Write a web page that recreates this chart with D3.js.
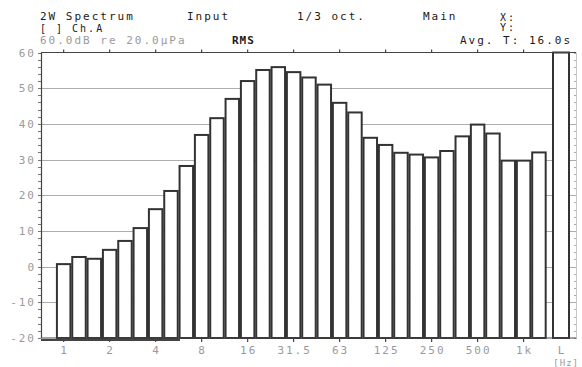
<!DOCTYPE html>
<html>
<head>
<meta charset="utf-8">
<title>2W Spectrum</title>
<script src="https://d3js.org/d3.v7.min.js"></script>
<style>
  body { margin: 0; background: #fff; }
  text { font-family: "DejaVu Sans Mono", monospace; font-size: 11px; letter-spacing: 2px; }
  .hdr { fill: #1a1a1a; }
  .dim { fill: #9a9a9a; }
</style>
</head>
<body>
<script>
var bands = ["1", "1.25", "1.6", "2", "2.5", "3.15", "4", "5", "6.3", "8", "10", "12.5",
             "16", "20", "25", "31.5", "40", "50", "63", "80", "100", "125", "160", "200",
             "250", "315", "400", "500", "630", "800", "1k", "1.25k"];
var levels = [0.7, 2.7, 2.2, 4.7, 7.2, 10.8, 16.1, 21.2, 28.2, 36.9, 41.6, 47,
              52, 55.1, 55.9, 54.5, 53, 51, 45.9, 43.2, 36.1, 34.1, 31.9, 31.4,
              30.6, 32.4, 36.5, 39.8, 37.3, 29.7, 29.7, 32];
var levelL = 60;
var xTickLabels = ["1", "2", "4", "8", "16", "31.5", "63", "125", "250", "500", "1k"];
var yTicks = [60, 50, 40, 30, 20, 10, 0, -10, -20];

var W = 582, H = 367;
var pLeft = 41, pRight = 576, pTop = 52.5, pBottom = 338;

var svg = d3.select("body").append("svg").attr("width", W).attr("height", H);

var y = d3.scaleLinear().domain([-20, 60]).range([pBottom, pTop]);
var x = d3.scaleBand().domain(bands).range([56, 546.6]).paddingInner(0.12).paddingOuter(0.06);
var xL = pRight - 23, wL = 16;   // overall level bar sits apart at the right edge

function myLine(g, x1, y1, x2, y2) {
  return g.append("line").attr("x1", x1).attr("y1", y1).attr("x2", x2).attr("y2", y2);
}

// header
function hdr(txt, px, py, cls) {
  return svg.append("text").attr("class", cls || "hdr").attr("x", px).attr("y", py).text(txt);
}
hdr("2W Spectrum", 40, 20);
hdr("Input", 187, 20);
hdr("1/3 oct.", 297, 20);
hdr("Main", 423, 20);
hdr("X:", 500, 21).style("font-size", "10px");
hdr("[ ] Ch.A", 40, 32).style("font-size", "10px");
hdr("Y:", 500, 31).style("font-size", "10px");
hdr("60.0dB re 20.0\u00b5Pa", 40, 44, "dim");
hdr("RMS", 232, 44).style("font-weight", "bold").style("letter-spacing", "1px");
hdr("Avg. T:", 460, 44);
hdr("16.0s", 529, 44);

// grid
var grid = svg.append("g").attr("stroke", "#adadad").attr("stroke-width", 1);
yTicks.slice(1, -1).forEach(function(v) {
  myLine(grid, pLeft, Math.round(y(v)) + 0.5, pRight, Math.round(y(v)) + 0.5);
});

// minor ticks, left and right
var minor = d3.range(-20, 61, 2);
var mt = svg.append("g").attr("stroke", "#777").attr("stroke-width", 1);
minor.forEach(function(v) {
  var yy = Math.round(y(v)) + 0.5;
  myLine(mt, pLeft - 3, yy, pLeft, yy);
  myLine(mt, pRight - 2, yy, pRight + 1, yy).attr("stroke", "#aaa");
});
myLine(svg, pRight + 0.5, pTop, pRight + 0.5, pBottom).attr("stroke", "#c8c8c8");

// bars
svg.append("g").selectAll("rect").data(levels).enter().append("rect")
  .attr("x", function(d, i) { return x(bands[i]); })
  .attr("y", function(d) { return y(d); })
  .attr("width", x.bandwidth())
  .attr("height", function(d) { return y(-20) - y(d); })
  .attr("fill", "#fff")
  .attr("stroke", "#333")
  .attr("stroke-width", 2);

svg.append("rect")
  .attr("x", xL).attr("y", y(levelL))
  .attr("width", wL).attr("height", y(-20) - y(levelL))
  .attr("fill", "#fff").attr("stroke", "#333").attr("stroke-width", 2);

// frame
var frame = svg.append("g").attr("stroke", "#444").attr("stroke-width", 1.2);
myLine(frame, pLeft, pTop, pRight, pTop);
myLine(frame, pLeft, pBottom, pRight, pBottom);
myLine(frame, pLeft + 0.5, pTop, pLeft + 0.5, pBottom);
myLine(frame, pLeft, pBottom + 2, 180, pBottom + 2).attr("stroke-width", 2);

// octave ticks and labels
xTickLabels.forEach(function(t) {
  var cx = x(t) + x.bandwidth() / 2;
  myLine(frame, cx, pTop - 3, cx, pTop);
  myLine(frame, cx, pBottom, cx, pBottom + 4);
  svg.append("text").attr("class", "dim").attr("x", cx + 1).attr("y", 354)
    .attr("text-anchor", "middle").text(t);
});
svg.append("text").attr("class", "dim").attr("x", xL + wL / 2 + 1).attr("y", 354)
  .attr("text-anchor", "middle").text("L");
svg.append("text").attr("class", "dim").attr("x", 579).attr("y", 366)
  .attr("text-anchor", "end").style("font-size", "9px").style("letter-spacing", "1px").text("[Hz]");

// y labels
yTicks.forEach(function(v) {
  svg.append("text").attr("class", "dim").attr("x", 36).attr("y", y(v) + 4)
    .attr("text-anchor", "end").text(v);
});
</script>
</body>
</html>
